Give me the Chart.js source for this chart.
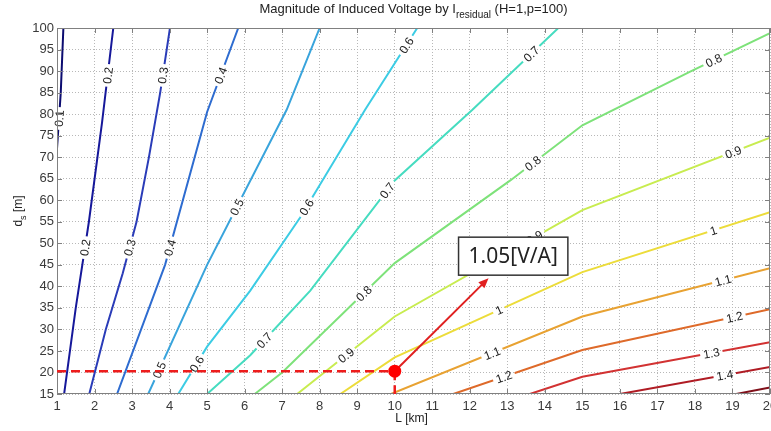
<!DOCTYPE html>
<html>
<head>
<meta charset="utf-8">
<script src="https://cdn.jsdelivr.net/npm/chart.js@4.4.1/dist/chart.umd.min.js"></script>
<style>
  html, body { margin: 0; padding: 0; background: #fff; }
  canvas { display: block; }
</style>
</head>
<body>
<canvas id="chart" width="771" height="431"></canvas>
<script>
// contour levels (V/A) and the traced iso-lines as [L km, ds m]
const levels = [0.1, 0.2, 0.3, 0.4, 0.5, 0.6, 0.7, 0.8, 0.9, 1.0, 1.1, 1.2, 1.3, 1.4, 1.5]

const c01 = [[1.0, 72], [1.1, 85], [1.17, 100]]
const c02 = [[1.19, 15], [1.5, 35], [1.85, 55], [2.2, 78], [2.5, 100]]
const c03 = [[1.86, 15], [2.3, 30], [2.75, 43], [3.12, 55], [3.45, 70], [3.75, 85], [4.01, 100]]
const c04 = [[2.6, 15], [3.88, 45], [5.0, 80.5], [5.83, 100]]
const c05 = [[3.43, 15], [5.0, 45], [7.12, 81], [8.0, 100]]
const c06 = [[4.23, 15], [5.0, 26], [6.15, 39], [7.48, 56], [9.21, 81], [10.6, 100]]
const c07 = [[5.0, 15], [6.15, 24], [7.75, 39], [10.0, 64.6], [12.07, 81], [14.36, 100]]
const c08 = [[6.27, 15], [7.0, 20], [10.0, 45.4], [13.08, 64.6], [15.0, 77.4], [17.9, 90], [20, 98.8]]
const c09 = [[7.4, 15], [10.0, 33], [15.0, 57.7], [20, 74.5]]
const c10 = [[8.55, 15], [10.0, 23.5], [15.0, 43.3], [20, 57.2]]
const c11 = [[9.9, 15], [15.0, 33], [20, 44.2]]
const c12 = [[11.56, 15], [15.0, 25.2], [20, 34.7]]
const c13 = [[13.6, 15], [15.0, 19], [20, 27]]
const c14 = [[16.0, 15], [20, 21.3]]
const c15 = [[19.1, 15], [20, 16.5]]

const contours = [c01, c02, c03, c04, c05, c06, c07, c08, c09, c10, c11, c12, c13, c14, c15]

// where each contour carries its inline label (ds value along the line)
const labelAtY = [[79], [49, 89], [49, 89], [49, 89], [20.6, 58.4], [22, 58.4, 96], [27.5, 62.3, 94],
  [38.4, 68.6, 92.5], [24, 51.4, 71.2], [34.5, 53], [24.5, 41.4], [19, 32.9], [24.5], [19.4], []]

const levelColors = ['#0c0c70', '#16189a', '#2a3cb8', '#2e6cd0', '#39a4dc', '#3ccce4', '#46dcc0',
  '#7ee27a', '#c8ec50', '#ecdc3a', '#e8a232', '#de6a2a', '#d23232', '#b01c24', '#80101a']

const xTicks = { min: 1, max: 20, step: 1 }
const yTicks = { min: 15, max: 100, step: 5 }

// operating point picked out on the plot
const pickL = 10
const pickDs = 20.3
const pickValue = '1.05[V/A]'
const arrowTip = [12.5, 41.9]

const labelFont = '12px "Liberation Sans", Arial, sans-serif'

function contourLabels(chart) {
  const xs = chart.scales.x, ys = chart.scales.y, ctx = chart.ctx
  ctx.save()
  ctx.font = labelFont
  const out = []
  contours.forEach((pts, i) => {
    labelAtY[i].forEach(yv => {
      for (let k = 0; k < pts.length - 1; k++) {
        const a = pts[k], b = pts[k + 1]
        if (yv >= a[1] && yv <= b[1]) {
          const t = (yv - a[1]) / (b[1] - a[1])
          const xv = a[0] + t * (b[0] - a[0])
          const ax = xs.getPixelForValue(a[0]), ay = ys.getPixelForValue(a[1])
          const bx = xs.getPixelForValue(b[0]), by = ys.getPixelForValue(b[1])
          let ang = Math.atan2(by - ay, bx - ax)
          if (ang > Math.PI / 2) ang -= Math.PI
          if (ang < -Math.PI / 2) ang += Math.PI
          const text = String(levels[i])
          out.push({ x: xs.getPixelForValue(xv), y: ys.getPixelForValue(yv), ang, text, w: ctx.measureText(text).width })
          break
        }
      }
    })
  })
  ctx.restore()
  return out
}

const contourPlugin = {
  id: 'contourDecor',
  beforeDatasetsDraw(chart) {
    const ctx = chart.ctx
    this.labels = contourLabels(chart)
    // cut gaps in the lines where the labels sit
    ctx.save()
    ctx.beginPath()
    ctx.rect(0, 0, chart.width, chart.height)
    this.labels.forEach(l => {
      const hw = l.w / 2 + 3, hh = 6
      const c = Math.cos(l.ang), s = Math.sin(l.ang)
      const corners = [[-hw, -hh], [hw, -hh], [hw, hh], [-hw, hh]].map(([u, v]) => [l.x + u * c - v * s, l.y + u * s + v * c])
      ctx.moveTo(corners[0][0], corners[0][1])
      for (let k = 1; k < 4; k++) ctx.lineTo(corners[k][0], corners[k][1])
      ctx.closePath()
    })
    ctx.clip('evenodd')
  },
  afterDatasetsDraw(chart) {
    const ctx = chart.ctx
    ctx.restore()
    const { left, right, top, bottom } = chart.chartArea

    // contour labels
    ctx.save()
    ctx.font = labelFont
    ctx.fillStyle = '#222'
    ctx.textAlign = 'center'
    ctx.textBaseline = 'middle'
    this.labels.forEach(l => {
      ctx.save()
      ctx.translate(l.x, l.y)
      ctx.rotate(l.ang)
      ctx.fillText(l.text, 0, 1)
      ctx.restore()
    })
    ctx.restore()

    // box frame and inward ticks
    ctx.save()
    ctx.strokeStyle = '#808080'
    ctx.lineWidth = 1
    ctx.strokeRect(left + 0.5, top + 0.5, right - left - 1, bottom - top - 1)
    ctx.beginPath()
    const xs = chart.scales.x, ys = chart.scales.y
    for (let v = xTicks.min; v <= xTicks.max; v += xTicks.step) {
      const px = Math.round(xs.getPixelForValue(v)) + 0.5
      ctx.moveTo(px, bottom); ctx.lineTo(px, bottom - 5)
      ctx.moveTo(px, top); ctx.lineTo(px, top + 5)
    }
    for (let v = yTicks.min; v <= yTicks.max; v += yTicks.step) {
      const py = Math.round(ys.getPixelForValue(v)) + 0.5
      ctx.moveTo(left, py); ctx.lineTo(left + 5, py)
      ctx.moveTo(right, py); ctx.lineTo(right - 5, py)
    }
    ctx.stroke()
    ctx.restore()
  },
  afterDraw(chart) {
    const ctx = chart.ctx
    const xs = chart.scales.x, ys = chart.scales.y
    const { left, right, top, bottom } = chart.chartArea

    // title with subscript
    ctx.save()
    ctx.fillStyle = '#222'
    ctx.textBaseline = 'alphabetic'
    const main = 'Magnitude of Induced Voltage by I', sub = 'residual', tail = ' (H=1,p=100)'
    const fMain = '13px "Liberation Sans", Arial, sans-serif', fSub = '10px "Liberation Sans", Arial, sans-serif'
    ctx.font = fMain
    const w1 = ctx.measureText(main).width, w3 = ctx.measureText(tail).width
    ctx.font = fSub
    const w2 = ctx.measureText(sub).width
    let tx = (left + right) / 2 - (w1 + w2 + w3) / 2
    ctx.font = fMain; ctx.fillText(main, tx, 13); tx += w1
    ctx.font = fSub; ctx.fillText(sub, tx, 18); tx += w2
    ctx.font = fMain; ctx.fillText(tail, tx, 13)

    // x axis title
    const fAxis = '12px "Liberation Sans", Arial, sans-serif', fAxisSub = '9px "Liberation Sans", Arial, sans-serif'
    ctx.font = fAxis
    ctx.textAlign = 'center'
    ctx.fillText('L [km]', (left + right) / 2 - 2, 422)

    // y axis title, rotated, with subscript
    ctx.translate(22, (top + bottom) / 2)
    ctx.rotate(-Math.PI / 2)
    ctx.textAlign = 'left'
    const d = 'd', s = 's', m = ' [m]'
    ctx.font = fAxis
    const wd = ctx.measureText(d).width, wm = ctx.measureText(m).width
    ctx.font = fAxisSub
    const ws = ctx.measureText(s).width
    let yx = -(wd + ws + wm) / 2
    ctx.font = fAxis; ctx.fillText(d, yx, 0); yx += wd
    ctx.font = fAxisSub; ctx.fillText(s, yx, 4); yx += ws
    ctx.font = fAxis; ctx.fillText(m, yx, 0)
    ctx.restore()

    // red guide lines to the picked point
    const px = xs.getPixelForValue(pickL), py = ys.getPixelForValue(pickDs)
    ctx.save()
    ctx.strokeStyle = '#ee1c1c'
    ctx.lineWidth = 2.5
    ctx.setLineDash([9, 5])
    ctx.beginPath()
    ctx.moveTo(left, py); ctx.lineTo(px, py)
    ctx.moveTo(px, py); ctx.lineTo(px, bottom)
    ctx.stroke()
    ctx.setLineDash([])

    // arrow to the value box
    const ax = xs.getPixelForValue(arrowTip[0]), ay = ys.getPixelForValue(arrowTip[1])
    const ang = Math.atan2(ay - py, ax - px)
    ctx.strokeStyle = '#e02020'
    ctx.fillStyle = '#e02020'
    ctx.lineWidth = 2
    ctx.beginPath()
    ctx.moveTo(px, py)
    ctx.lineTo(ax - 6 * Math.cos(ang), ay - 6 * Math.sin(ang))
    ctx.stroke()
    ctx.beginPath()
    ctx.moveTo(ax, ay)
    ctx.lineTo(ax - 11 * Math.cos(ang - 0.4), ay - 11 * Math.sin(ang - 0.4))
    ctx.lineTo(ax - 11 * Math.cos(ang + 0.4), ay - 11 * Math.sin(ang + 0.4))
    ctx.closePath()
    ctx.fill()

    // point marker
    ctx.fillStyle = '#ff0000'
    ctx.beginPath()
    ctx.arc(px, py, 6.5, 0, Math.PI * 2)
    ctx.fill()

    // value box
    ctx.font = '21px "Noto Sans", "Open Sans", sans-serif'
    const tw = ctx.measureText(pickValue).width
    const bx = ax - 30, bw = tw + 20, bh = 38, by = ay - 3 - bh
    ctx.fillStyle = '#fff'
    ctx.fillRect(bx, by, bw, bh)
    ctx.strokeStyle = '#333'
    ctx.lineWidth = 1.5
    ctx.strokeRect(bx, by, bw, bh)
    ctx.fillStyle = '#222'
    ctx.textAlign = 'left'
    ctx.textBaseline = 'middle'
    ctx.fillText(pickValue, bx + 10, by + bh / 2 + 1)
    ctx.restore()
  }
}

const tickFont = { family: '"Liberation Sans", Arial, sans-serif', size: 13 }

const datasets = contours.map((pts, i) => ({
  label: String(levels[i]),
  data: pts.map(p => ({ x: p[0], y: p[1] })),
  borderColor: levelColors[i],
  borderWidth: 2,
  pointRadius: 0,
  tension: 0,
  fill: false
}))

new Chart(document.getElementById('chart'), {
  type: 'line',
  data: { datasets },
  options: {
    responsive: false,
    animation: false,
    devicePixelRatio: 1,
    layout: { padding: { top: 28, right: 1, left: 0, bottom: 0 } },
    plugins: { legend: { display: false }, tooltip: { enabled: false }, title: { display: false } },
    scales: {
      x: {
        type: 'linear', min: xTicks.min, max: xTicks.max,
        ticks: { stepSize: xTicks.step, autoSkip: false, maxRotation: 0, color: '#3a3a3a', font: tickFont, padding: 5 },
        grid: { color: '#b8b8b8', drawTicks: false },
        border: { display: false, dash: [1, 2] },
        afterFit(scale) { scale.height = 37; scale.paddingLeft = 0; scale.paddingRight = 0 }
      },
      y: {
        type: 'linear', min: yTicks.min, max: yTicks.max,
        ticks: { stepSize: yTicks.step, autoSkip: false, color: '#3a3a3a', font: tickFont, padding: 3 },
        grid: { color: '#b8b8b8', drawTicks: false },
        border: { display: false, dash: [1, 2] },
        afterFit(scale) { scale.width = 57; scale.paddingTop = 0; scale.paddingBottom = 0 }
      }
    }
  },
  plugins: [contourPlugin]
})
</script>
</body>
</html>
